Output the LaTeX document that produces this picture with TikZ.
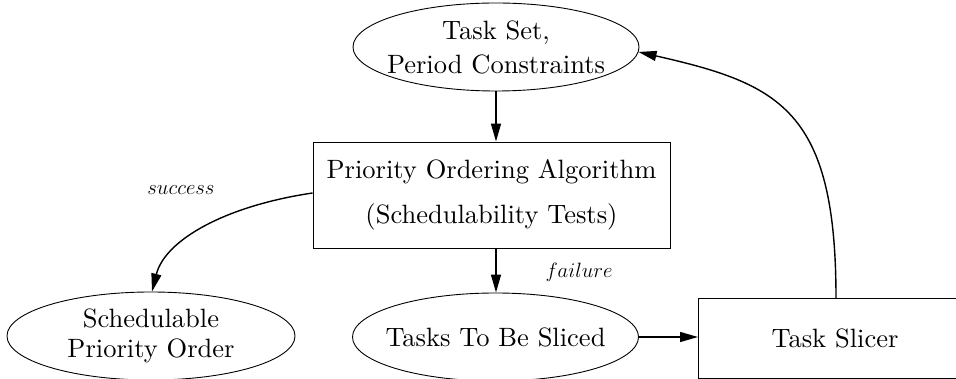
\documentclass[tikz,border=0pt]{standalone}
\usepackage{fontspec}
\setmainfont{lmroman10-regular.otf}[ItalicFont=lmroman10-italic.otf]
\usetikzlibrary{shapes.geometric,arrows.meta}
\begin{document}
\begin{tikzpicture}[x=1pt,y=-1pt,
  every node/.style={font=\fontsize{26.5}{34}\selectfont, align=center, inner sep=0pt},
  oval/.style={ellipse, draw, line width=0.9pt, minimum width=286pt, minimum height=88pt},
  rect/.style={rectangle, draw, line width=0.9pt},
  lbl/.style={font=\fontsize{20}{24}\selectfont},
  conn/.style={line width=1.4pt, -{Triangle[length=18pt,width=10pt]}}]
\useasboundingbox (0,0) rectangle (956,379);
\node[oval] (T) at (496,47) {};
\node (Tt) at (T) {Task Set,\\Period Constraints};
\node[rect, minimum width=357pt, minimum height=106pt,
      font=\fontsize{26.5}{45}\selectfont] (P) at (491.5,195) {Priority Ordering Algorithm\\(Schedulability Tests)};
\node[oval, minimum width=288pt] (S) at (151,336) {};
\node[font=\fontsize{26.5}{30}\selectfont] (St) at (S) {Schedulable\\Priority Order};
\node[oval] (K) at (495.5,337) {};
\node (Kt) at (K) {Tasks To Be Sliced};
\node[rect, minimum width=280pt, minimum height=80pt, anchor=north west] (L) at (698,298) {};
\node (LT) at (835,338) {Task Slicer};
\node[lbl] (ls) at (181,190) {$success$};
\node[lbl] (lf) at (579,272) {$failure$};
\draw[conn] (T.south -| 496,0) -- (P.north -| 496,0);
\draw[conn] (P.south -| 496,0) -- (K.north -| 496,0);
\draw[conn] (K.east) -- (L.west |- K.east);
\draw[conn] ([yshift=2pt]P.west) .. controls (225,206) and (165,240) .. (S.north -| 152,0);
\draw[conn] (L.north -| 836,0) .. controls (836,110) and (780,84) .. (T.-2);
\end{tikzpicture}
\end{document}
